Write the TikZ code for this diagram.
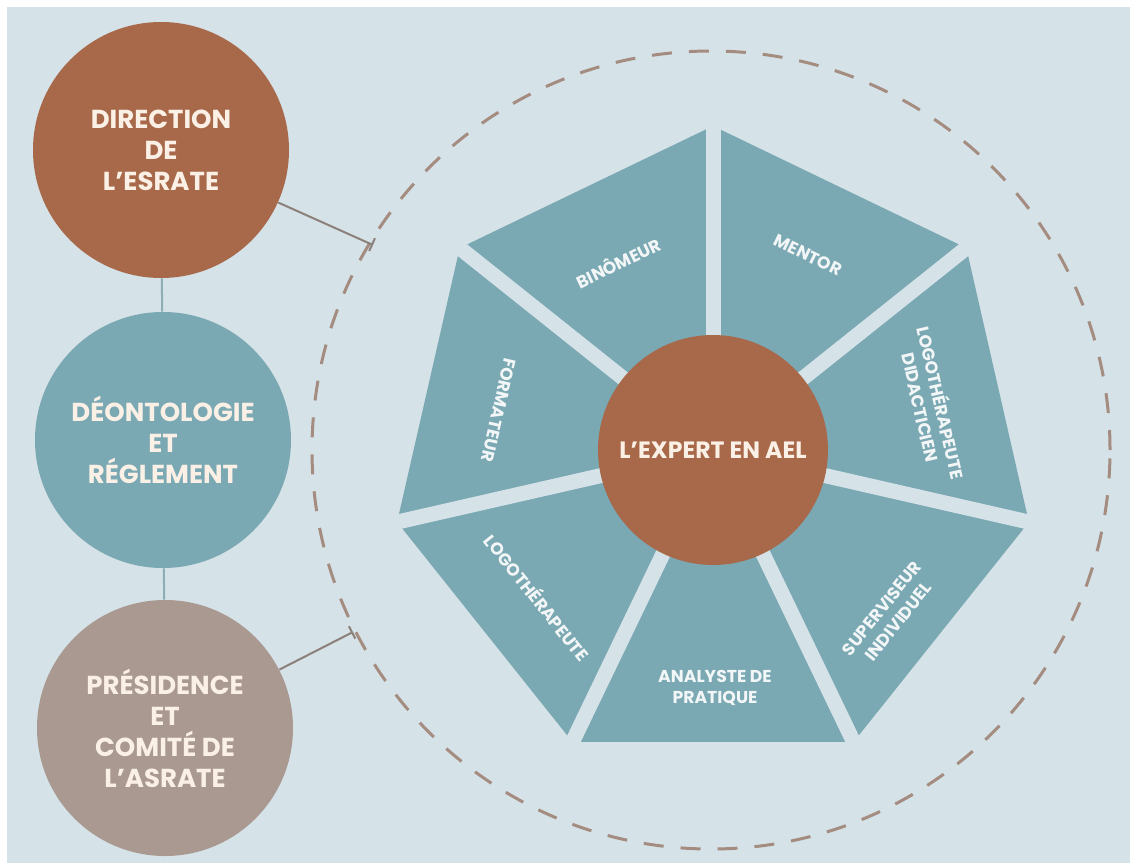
\documentclass[tikz,border=0pt]{standalone}
\usepackage{fontspec}
\setmainfont{Poppins}
\usetikzlibrary{arrows.meta,calc}
\definecolor{bgc}{HTML}{D5E2E8}
\definecolor{tealc}{HTML}{7AA8B3}
\definecolor{rustc}{HTML}{A8694A}
\definecolor{taupec}{HTML}{A99990}
\definecolor{creamc}{HTML}{FBF0E6}
\definecolor{dashc}{HTML}{A48C80}
\definecolor{linkc}{HTML}{8C817A}
\definecolor{vlinkc}{HTML}{8EAEB6}
\definecolor{labc}{HTML}{F2F6F7}
\tikzset{
  bigc/.style={circle, inner sep=0pt, minimum size=128pt, text=creamc, align=center,
    font=\bfseries\fontsize{13}{15.5}\selectfont},
  lab/.style={inner sep=0pt, text=labc, align=center,
    font=\bfseries\fontsize{8.6}{10.5}\selectfont},
  gapline/.style={bgc, line width=7.5pt},
  linkline/.style={linkc, line width=1pt, -{Bar[width=7pt,line width=1pt]}},
  vline/.style={vlinkc, line width=1pt}
}
\begin{document}
\begin{tikzpicture}[x=0.5pt,y=-0.5pt]
\useasboundingbox (0,0) rectangle (1133,867);
\fill[white] (0,0) rectangle (1133,867);
\fill[bgc] (7,7) rectangle (1130,863);

% dashed ring
\draw[dashc, line width=1.5pt, dash pattern=on 10pt off 8.5pt] (711,450) circle[radius=199.5pt];

% heptagon
\coordinate (C) at (713,450);
\fill[tealc] ($(C)+(-90:324)$) \foreach \i in {1,...,6}{ -- ($(C)+({-90+\i*360/7}:324)$)} -- cycle;
\foreach \i in {0,...,6}{
  \draw[gapline] (C) -- ($(C)+({-90+\i*360/7}:335)$);
}

% centre
\node[circle, inner sep=0pt, minimum size=115pt, fill=rustc, text=creamc,
  font=\bfseries\fontsize{11.8}{13}\selectfont] (ctr) at (C) {L’EXPERT EN AEL};

% sector labels
\node[lab, rotate=25.7] (binome) at (618,262) {BINÔMEUR};
\node[lab, rotate=-25.7] (mentor) at (808,255) {MENTOR};
\node[lab, rotate=-77.14] (didac) at (932,405) {LOGOTHÉRAPEUTE\\DIDACTICIEN};
\node[lab, rotate=51.43] (superv) at (890,615) {SUPERVISEUR\\INDIVIDUEL};
\node[lab] (analyste) at (715,688) {ANALYSTE DE\\PRATIQUE};
\node[lab, rotate=-51.43] (logo) at (538,597) {LOGOTHÉRAPEUTE};
\node[lab, rotate=-102.86] (form) at (499,410) {FORMATEUR};

% left circles
\node[bigc, fill=rustc] (dir) at (161,150) {DIRECTION\\DE\\L’ESRATE};
\node[bigc, fill=tealc] (deo) at (163,440) {DÉONTOLOGIE\\ET\\RÉGLEMENT};
\node[bigc, fill=taupec] (pres) at (165,728) {PRÉSIDENCE\\ET\\COMITÉ DE\\L’ASRATE};

\draw[vline] (dir) -- (deo);
\draw[vline] (deo) -- (pres);

\coordinate (t1) at (373,245);
\coordinate (t2) at (353,632);
\draw[linkline] (dir) -- (t1);
\draw[linkline] (pres) -- (t2);
\end{tikzpicture}
\end{document}
